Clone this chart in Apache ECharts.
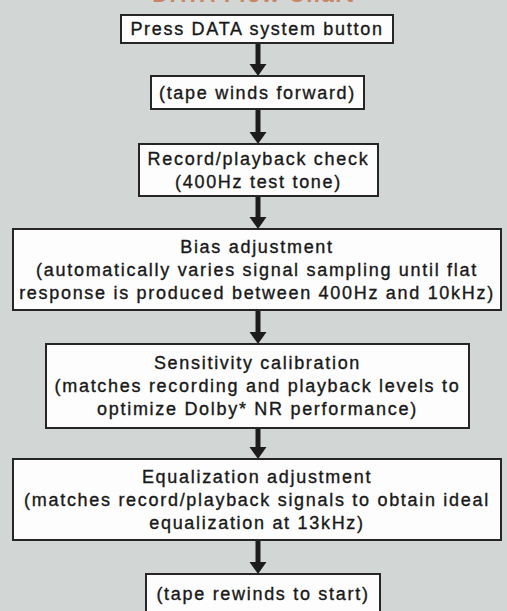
<!DOCTYPE html>
<html>
<head>
<meta charset="utf-8">
<script src="https://cdn.jsdelivr.net/npm/echarts@6/dist/echarts.min.js"></script>
<style>
  html, body { margin: 0; padding: 0; background: #d2d7d5; }
  #chart { width: 507px; height: 611px; }
  #chart svg text { letter-spacing: 1.7px; }
</style>
</head>
<body>
<div id="chart"></div>
<script>
// ---- data ----
const chartTitle = 'DATA Flow Chart';
const steps = [
  'Press DATA system button',
  '(tape winds forward)',
  'Record/playback check\n(400Hz test tone)',
  'Bias adjustment\n(automatically varies signal sampling until flat\nresponse is produced between 400Hz and 10kHz)',
  'Sensitivity calibration\n(matches recording and playback levels to\noptimize Dolby* NR performance)',
  'Equalization adjustment\n(matches record/playback signals to obtain ideal\nequalization at 13kHz)',
  '(tape rewinds to start)'
];
// box extents in diagram units (x: 0-507, y: 0-611 from top)
const boxLeft   = [121, 151, 139, 13, 46, 13, 146];
const boxRight  = [393, 364, 378, 501, 469, 501, 380];
const boxTop    = [15, 76, 144, 229, 344, 459, 574];
const boxBottom = [43, 109, 196, 310, 428, 540, 614];
const flowX = 258;

// ---- build ----
const boxData = steps.map((s, i) => [boxLeft[i], boxRight[i], boxTop[i], boxBottom[i], i]);
const arrowData = [];
for (let i = 0; i < steps.length - 1; i++) {
  arrowData.push([flowX, boxBottom[i], boxTop[i + 1]]);
}

const FONT = '18px "Liberation Sans", Arial, sans-serif';

const chart = echarts.init(document.getElementById('chart'), null, { renderer: 'svg' });
chart.setOption({
  backgroundColor: '#d2d7d5',
  animation: false,
  title: {
    text: chartTitle,
    left: 'center',
    top: -22,
    textStyle: { color: '#c88464', fontSize: 22, fontWeight: 'bold', fontFamily: '"Liberation Sans", Arial, sans-serif' }
  },
  grid: { left: 0, right: 0, top: 0, bottom: 0 },
  xAxis: { type: 'value', min: 0, max: 507, show: false },
  yAxis: { type: 'value', min: 0, max: 611, inverse: true, show: false },
  series: [
    {
      type: 'custom',
      data: arrowData,
      clip: false,
      renderItem: function (params, api) {
        const top = api.coord([api.value(0), api.value(1)]);
        const tip = api.coord([api.value(0), api.value(2)]);
        const headH = 12, headW = 17, shaftW = 5;
        return {
          type: 'group',
          children: [
            { type: 'rect', shape: { x: top[0] - shaftW / 2, y: top[1], width: shaftW, height: tip[1] - headH - top[1] + 1 },
              style: { fill: '#1c1c1c' } },
            { type: 'polygon', shape: { points: [[tip[0] - headW / 2, tip[1] - headH], [tip[0] + headW / 2, tip[1] - headH], [tip[0], tip[1]]] },
              style: { fill: '#1c1c1c' } }
          ]
        };
      }
    },
    {
      type: 'custom',
      data: boxData,
      clip: false,
      renderItem: function (params, api) {
        const p0 = api.coord([api.value(0), api.value(2)]);
        const p1 = api.coord([api.value(1), api.value(3)]);
        const idx = api.value(4);
        return {
          type: 'group',
          children: [
            { type: 'rect', shape: { x: p0[0], y: p0[1], width: p1[0] - p0[0], height: p1[1] - p0[1] },
              style: { fill: '#fdfdfd', stroke: '#262626', lineWidth: 2 } },
            { type: 'text', style: { text: steps[idx], x: (p0[0] + p1[0]) / 2, y: (p0[1] + p1[1]) / 2,
              align: 'center', verticalAlign: 'middle', font: FONT, lineHeight: 23, fill: '#181818',
              stroke: '#181818', lineWidth: 0.35 } }
          ]
        };
      }
    }
  ]
});
</script>
</body>
</html>
